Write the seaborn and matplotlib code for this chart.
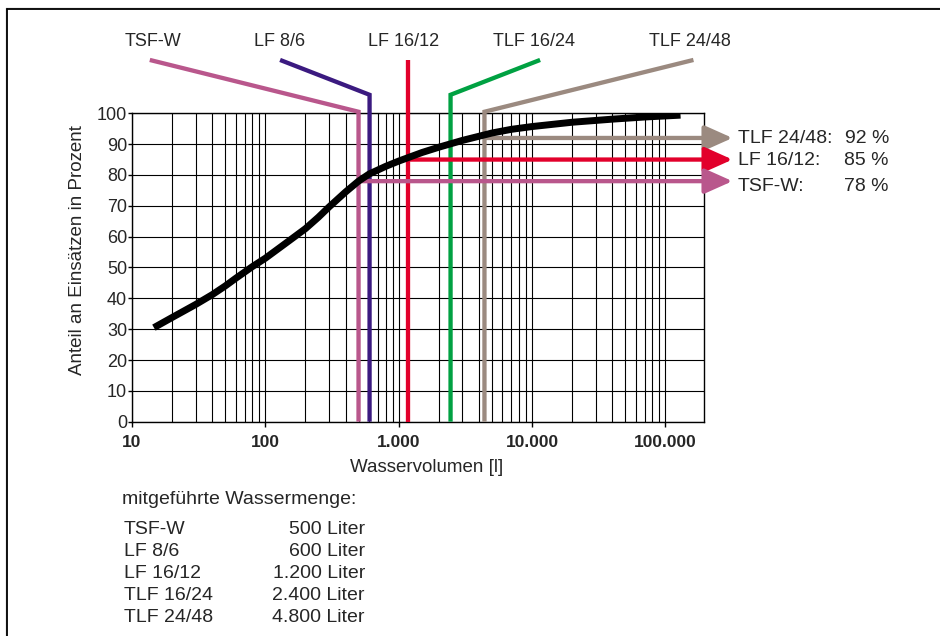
import numpy as np
import matplotlib
matplotlib.use('Agg')
import matplotlib.pyplot as plt
import seaborn as sns
from matplotlib.lines import Line2D
from matplotlib.ticker import FixedLocator, LogLocator, NullFormatter
from matplotlib.transforms import blended_transform_factory

#------------------------ Daten

# Summenkurve: Wasservolumen [l] -> Anteil an Einsätzen [%]
curve_x = [14.6, 20, 30, 40, 50, 60, 80, 100, 150, 200, 250, 300, 400, 500,
           600, 800, 1000, 1500, 2000, 3000, 5000, 7000, 10000, 20000, 40000,
           70000, 130000]
curve_y = [30.5, 33.8, 38, 41.2, 44, 46.5, 50.3, 53, 58.6, 62.6, 66.3, 69.6, 74.5, 78,
           80.3, 82.8, 84.5, 87.3, 89, 91.2, 93.6, 94.8, 95.7, 97.1, 98.1,
           98.8, 99.4]

# Fahrzeuge
vehicles = ['TSF-W', 'LF 8/6', 'LF 16/12', 'TLF 16/24', 'TLF 24/48']
volumes = [500, 600, 1200, 2400, 4800]          # mitgeführte Wassermenge
line_x = [500, 605, 1170, 2450, 4400]           # Lage der Linien im Bild
elbow_y = [100.5, 106, None, 106, 100.5]
top_x = [13.6, 129, 1170, 11500, 162500]
label_x = [14.4, 127, 1080, 10300, 153500]
colors = ['#B9578C', '#3B1A80', '#E2002B', '#00A142', '#9B8A80']

# Pfeile rechts
arrow_names = ['TLF 24/48:', 'LF 16/12:', 'TSF-W:']
arrow_pct = [92, 85, 78]
arrow_idx = [4, 2, 0]

yticks = list(range(0, 101, 10))
xticks = [10, 100, 1000, 10000, 100000]
xtick_labels = ['10', '100', '1.000', '10.000', '100.000']

#------------------------ Layout
sns.set_style('white')
plt.rcParams['font.family'] = ['Liberation Sans', 'DejaVu Sans']

W, H = 940, 636
fig = plt.figure(figsize=(W / 100, H / 100), dpi=100)
ax = fig.add_axes([132 / W, 1 - 421.7 / H, (704 - 132) / W, (421.7 - 113.3) / H])

ax.set_xscale('log')
ax.set_xlim(10, 195000)
ax.set_ylim(0, 100)

# Gitter
ax.xaxis.set_major_locator(FixedLocator(xticks))
ax.xaxis.set_minor_locator(LogLocator(base=10, subs=np.arange(2, 10)))
ax.xaxis.set_minor_formatter(NullFormatter())
ax.set_xticklabels(xtick_labels, fontsize=12.5, fontweight='bold')
ax.set_yticks(yticks)
ax.set_yticklabels([str(v) for v in yticks], fontsize=13)
ax.grid(which='both', axis='x', color='black', lw=0.8, zorder=1)
ax.grid(which='major', axis='y', color='black', lw=0.8, zorder=1)
ax.set_axisbelow(True)
ax.tick_params(axis='x', which='major', direction='out', length=3.5, width=1, pad=6, color='black')
ax.tick_params(axis='x', which='minor', length=0)
ax.tick_params(axis='y', direction='out', length=3, width=1, pad=0.5, color='black')
ax.tick_params(bottom=True, left=True)
for s in ax.spines.values():
    s.set_color('black')
    s.set_linewidth(1)

# Summenkurve
sns.lineplot(x=curve_x, y=curve_y, ax=ax, color='black', lw=5, sort=False,
             estimator=None, zorder=6, solid_capstyle='butt', solid_joinstyle='round')

# Fahrzeuglinien mit Beschriftung oben
y_top = 117.3
y_lab = 123.3
for i, name in enumerate(vehicles):
    if elbow_y[i] is None:
        xs, ys = [line_x[i], top_x[i]], [0, y_top]
    else:
        xs, ys = [line_x[i], line_x[i], top_x[i]], [0, elbow_y[i], y_top]
    ax.plot(xs, ys, color=colors[i], lw=3.1, clip_on=False, zorder=4,
            solid_joinstyle='miter', solid_capstyle='butt')
    ax.text(label_x[i], y_lab, name, ha='center', va='center', fontsize=13, clip_on=False)

# Pfeile nach rechts
tip_x = 319000
trans = blended_transform_factory(fig.transFigure, ax.transData)
txt_dy = [-1, -1, -5]
for k, idx in enumerate(arrow_idx):
    ax.annotate('', xy=(tip_x, arrow_pct[k]), xytext=(line_x[idx], arrow_pct[k]),
                arrowprops=dict(arrowstyle='-|>,head_length=0.85,head_width=0.38',
                                mutation_scale=20, color=colors[idx], lw=3.1,
                                shrinkA=0, shrinkB=0),
                annotation_clip=False, zorder=5)
    ax.annotate(arrow_names[k], xy=(738 / W, arrow_pct[k]), xycoords=trans,
                xytext=(0, txt_dy[k]), textcoords='offset pixels',
                ha='left', va='center', fontsize=14, annotation_clip=False)
    ax.annotate(f'{arrow_pct[k]} %', xy=(889 / W, arrow_pct[k]), xycoords=trans,
                xytext=(0, txt_dy[k]), textcoords='offset pixels',
                ha='right', va='center', fontsize=14, annotation_clip=False)

# Achsenbeschriftungen
fig.text(427 / W, 1 - 468 / H, 'Wasservolumen [l]', ha='center', va='center', fontsize=13.5)
fig.text(78 / W, 1 - 250 / H, 'Anteil an Einsätzen in Prozent', ha='center', va='center',
         rotation=90, fontsize=13.5)

# Tabelle
fig.text(122 / W, 1 - 500 / H, 'mitgeführte Wassermenge:', ha='left', va='center', fontsize=14)
for i, name in enumerate(vehicles):
    y = 1 - (530 + i * 21.8) / H
    vol = f'{volumes[i]:,}'.replace(',', '.')
    fig.text(124 / W, y, name, ha='left', va='center', fontsize=14)
    fig.text(365 / W, y, f'{vol} Liter', ha='right', va='center', fontsize=14)

# Rahmen (oben und links)
fig.add_artist(Line2D([6 / W, 1], [1 - 7.5 / H, 1 - 7.5 / H], color='#b0b0b0', lw=1))
fig.add_artist(Line2D([6 / W, 6 / W], [0, 1 - 7.5 / H], color='#b0b0b0', lw=1))
fig.add_artist(Line2D([7.5 / W, 1], [1 - 9 / H, 1 - 9 / H], color='black', lw=1.3))
fig.add_artist(Line2D([7.5 / W, 7.5 / W], [0, 1 - 9 / H], color='black', lw=1.3))

fig.savefig('out.png', dpi=100)
